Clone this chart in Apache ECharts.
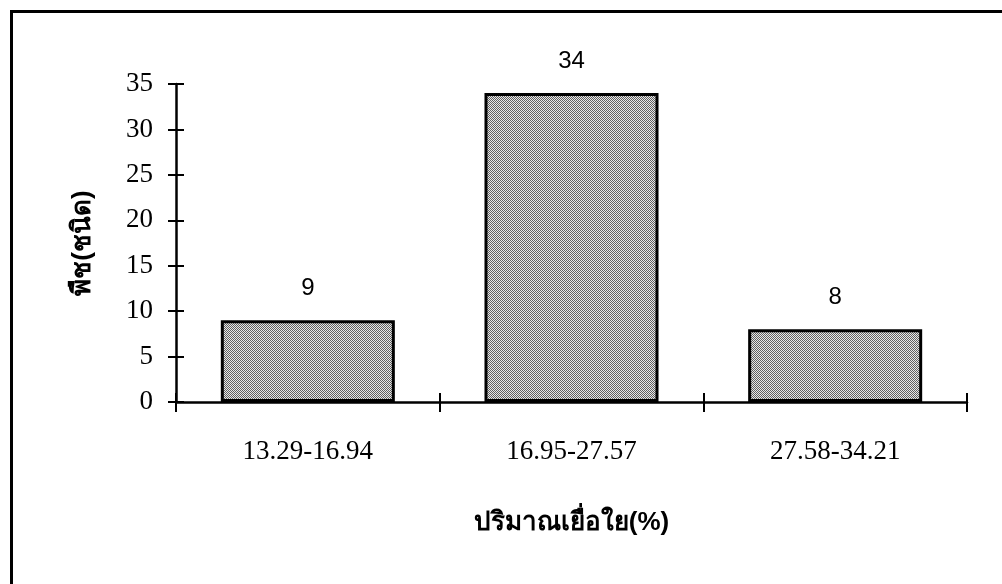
<!DOCTYPE html>
<html>
<head>
<meta charset="utf-8">
<script src="https://cdn.jsdelivr.net/npm/echarts@6/dist/echarts.min.js"></script>
<style>
html,body{margin:0;padding:0;background:#fff;}
#chart{width:1002px;height:584px;}
</style>
</head>
<body>
<div id="chart"></div>
<script>
const categories = ['13.29-16.94', '16.95-27.57', '27.58-34.21'];
const counts = [9, 34, 8];
const yTicks = [0, 5, 10, 15, 20, 25, 30, 35];
const xTitle = 'ปริมาณเยื่อใย(%)';
const yTitle = 'พืช(ชนิด)';

// halftone-like texture for the bars
const pat = document.createElement('canvas');
pat.width = 2; pat.height = 2;
const pctx = pat.getContext('2d');
pctx.fillStyle = '#e8e8e8'; pctx.fillRect(0, 0, 2, 2);
pctx.fillStyle = '#606060';
pctx.fillRect(0, 0, 1, 1); pctx.fillRect(1, 1, 1, 1);

const serif = '"Liberation Serif", "DejaVu Serif", serif';
const chart = echarts.init(document.getElementById('chart'), null, {renderer: 'canvas'});
const axisLine = {show: true, lineStyle: {color: '#000', width: 2.5}};
chart.setOption({
  backgroundColor: '#fff',
  animation: false,
  grid: {left: 176, right: 35, top: 84, bottom: 182},
  graphic: [{
    type: 'rect', left: 9, top: 9, z: -1,
    shape: {width: 1010, height: 600},
    style: {fill: 'none', stroke: '#000', lineWidth: 3}
  }],
  xAxis: [{
    type: 'category', data: categories, position: 'bottom',
    axisLine: axisLine,
    axisTick: {show: true, length: 10, lineStyle: {color: '#000', width: 2}},
    axisLabel: {margin: 36, fontFamily: serif, fontSize: 27, color: '#000'},
    name: xTitle, nameLocation: 'middle', nameGap: 108,
    nameTextStyle: {fontSize: 26, fontWeight: 'bold', color: '#000'}
  }, {
    type: 'category', data: categories, position: 'bottom',
    axisLine: {show: false},
    axisTick: {show: true, inside: true, length: 9, lineStyle: {color: '#000', width: 2}},
    axisLabel: {show: false}
  }],
  yAxis: [{
    type: 'value', min: yTicks[0], max: yTicks[yTicks.length - 1], interval: yTicks[1] - yTicks[0],
    position: 'left',
    axisLine: axisLine,
    axisTick: {show: true, length: 8, lineStyle: {color: '#000', width: 2}},
    splitLine: {show: false},
    axisLabel: {margin: 23, fontFamily: serif, fontSize: 27, color: '#000'},
    name: yTitle, nameLocation: 'middle', nameGap: 80,
    nameTextStyle: {fontSize: 26, fontWeight: 'bold', color: '#000'}
  }, {
    type: 'value', min: yTicks[0], max: yTicks[yTicks.length - 1], interval: yTicks[1] - yTicks[0],
    position: 'left',
    axisLine: {show: false},
    axisTick: {show: true, inside: true, length: 8, lineStyle: {color: '#000', width: 2}},
    splitLine: {show: false},
    axisLabel: {show: false}
  }],
  series: [{
    type: 'bar', data: counts, xAxisIndex: 0, yAxisIndex: 0,
    barCategoryGap: '34%',
    itemStyle: {color: {image: pat, repeat: 'repeat'}, borderColor: '#000', borderWidth: 3},
    label: {show: true, position: 'top', distance: 20,
      fontFamily: '"Liberation Sans", Arial, sans-serif', fontSize: 24, color: '#000'}
  }]
});
</script>
</body>
</html>
